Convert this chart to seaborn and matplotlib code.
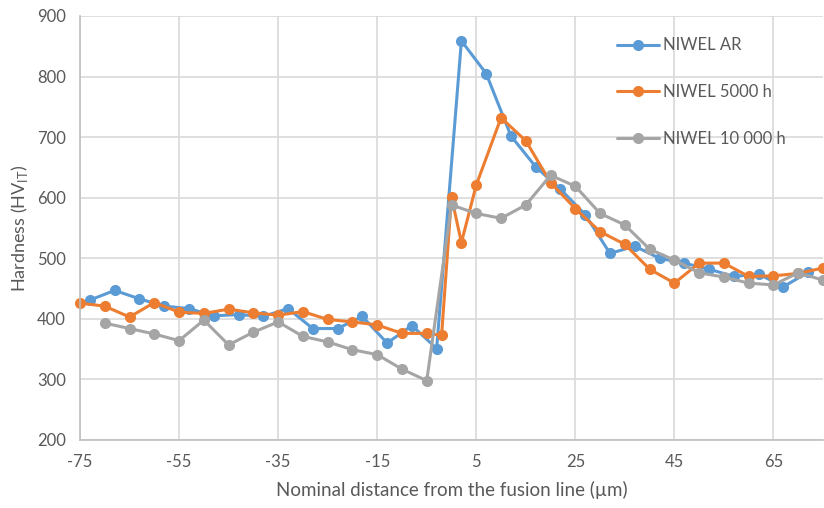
import matplotlib
matplotlib.use("Agg")
import matplotlib.pyplot as plt
import seaborn as sns
import pandas as pd

# ---- data ----
ar_x = [-73, -68, -63, -58, -53, -48, -43, -38, -33, -28, -23, -18, -13, -8, -3,
        2, 7, 12, 17, 22, 27, 32, 37, 42, 47, 52, 57, 62, 67, 72]
ar_y = [431, 447, 433, 421, 417, 405, 407, 404, 417, 384, 384, 404, 360, 389, 351,
        859, 805, 702, 651, 614, 572, 508, 520, 500, 492, 482, 470, 474, 453, 477]

h5000_x = [-75, -70, -65, -60, -55, -50, -45, -40, -35, -30, -25, -20, -15, -10, -5,
           -2, 0, 2, 5, 10, 15, 20, 25, 30, 35, 40, 45, 50, 55, 60, 65, 70, 75]
h5000_y = [426, 421, 403, 427, 411, 409, 416, 410, 406, 412, 399, 395, 390, 376, 376,
           373, 601, 526, 621, 732, 694, 625, 582, 544, 523, 482, 459, 492, 492, 470, 471, 475, 484]

h10000_x = [-70, -65, -60, -55, -50, -45, -40, -35, -30, -25, -20, -15, -10, -5,
            0, 5, 10, 15, 20, 25, 30, 35, 40, 45, 50, 55, 60, 65, 70, 75]
h10000_y = [393, 384, 375, 364, 398, 357, 378, 395, 371, 362, 349, 341, 317, 298,
            588, 574, 566, 588, 637, 619, 574, 555, 515, 497, 476, 469, 459, 456, 476, 464]

series_names = ["NIWEL AR", "NIWEL 5000 h", "NIWEL 10 000 h"]
xticks = [-75, -55, -35, -15, 5, 25, 45, 65]
yticks = [200, 300, 400, 500, 600, 700, 800, 900]

colors = ["#5B9BD5", "#ED7D31", "#A5A5A5"]

sns.set_style("white")
plt.rcParams["font.family"] = ["Lato", "DejaVu Sans"]
plt.rcParams["axes.unicode_minus"] = False

fig = plt.figure(figsize=(8.24, 5.08), dpi=100)
ax = fig.add_axes([80/824, 1 - 440/508, (823-80)/824, (440-16)/508])

for xs, ys, name, c in zip([ar_x, h5000_x, h10000_x], [ar_y, h5000_y, h10000_y],
                           series_names, colors):
    df = pd.DataFrame({"x": xs, "y": ys})
    sns.lineplot(data=df, x="x", y="y", ax=ax, color=c, label=name,
                 marker="o", markersize=8, markeredgewidth=0, linewidth=2.2,
                 clip_on=False, sort=False)

ax.set_xlim(-75, 75)
ax.set_ylim(200, 900)
ax.set_xticks(xticks)
ax.set_yticks(yticks)
ax.grid(True, color="#D9D9D9", linewidth=1.2)
ax.set_axisbelow(True)
for s in ["top", "right"]:
    ax.spines[s].set_visible(False)
for s in ["left", "bottom"]:
    ax.spines[s].set_color("#BFBFBF")
    ax.spines[s].set_linewidth(1.2)
ax.tick_params(axis="both", length=0, labelsize=12, labelcolor="#595959", pad=10)
ax.set_xlabel("Nominal distance from the fusion line (µm)", fontsize=13.5, color="#595959", labelpad=8)
ax.set_ylabel("Hardness (HV$_{\\mathregular{IT}}$)", fontsize=13, color="#595959")
ax.yaxis.set_label_coords(-50/743, 0.5)

leg = ax.legend(loc="upper left", bbox_to_anchor=(0.703, 0.985), frameon=False,
                fontsize=12, labelspacing=1.85, handlelength=2.5, handletextpad=0.25,
                labelcolor="#595959")

fig.savefig("out.png", dpi=100)
